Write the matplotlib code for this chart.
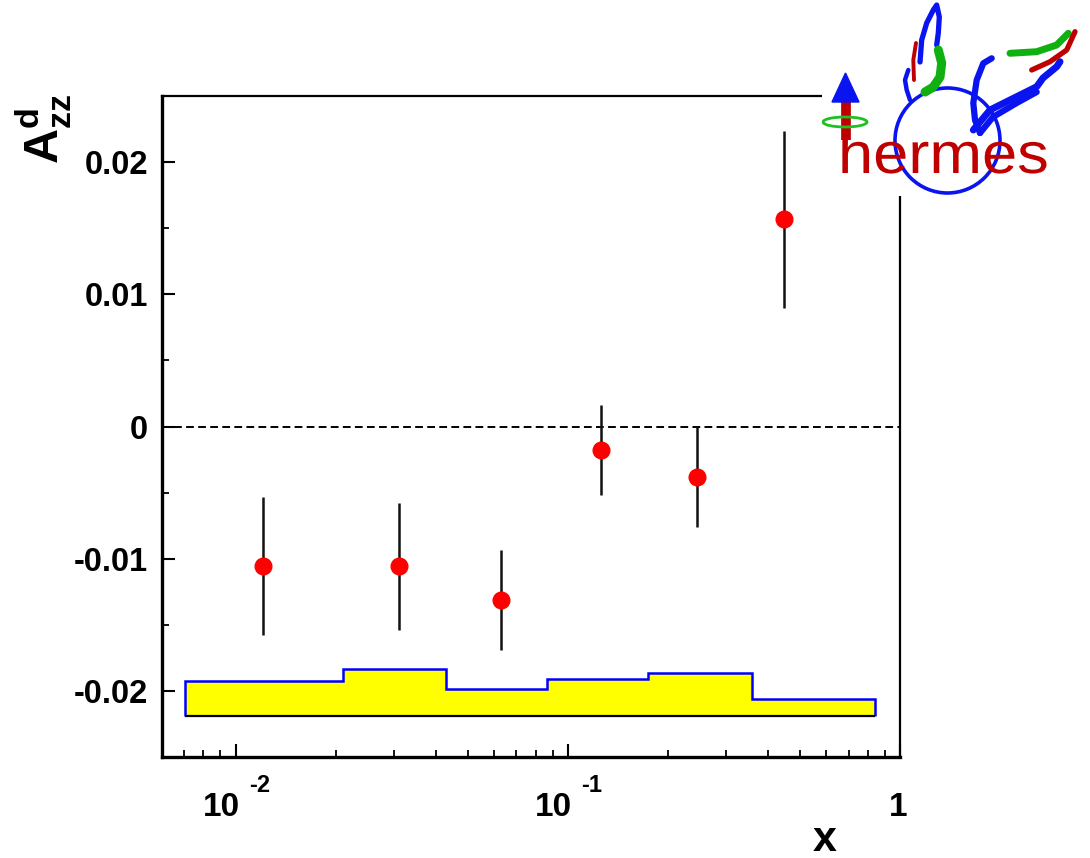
import matplotlib
matplotlib.use('Agg')
import matplotlib.pyplot as plt
from matplotlib.ticker import FixedLocator, LogLocator, NullFormatter, MultipleLocator, FormatStrFormatter
from matplotlib.transforms import blended_transform_factory, offset_copy, Affine2D
from matplotlib.patches import Circle, Ellipse, Polygon, PathPatch
from matplotlib.textpath import TextPath
from matplotlib.font_manager import FontProperties

plt.rcParams['font.family'] = ['Liberation Sans', 'DejaVu Sans']
plt.rcParams['mathtext.fontset'] = 'custom'
plt.rcParams['mathtext.rm'] = 'Liberation Sans'
plt.rcParams['mathtext.bf'] = 'Liberation Sans:bold'

# measured points
x_vals = [0.0121, 0.0311, 0.0627, 0.1257, 0.2443, 0.4481]
azz = [-0.01055, -0.01058, -0.01314, -0.00178, -0.00383, 0.01569]
azz_err = [0.0052, 0.0048, 0.0038, 0.0034, 0.0038, 0.0067]

# systematic error band
bin_edges = [0.00703, 0.02106, 0.0431, 0.0865, 0.1748, 0.3574, 0.8435]
sys_top = [-0.01927, -0.01835, -0.01983, -0.01912, -0.01867, -0.02058]
sys_base = -0.02188

fig = plt.figure(figsize=(10.9, 8.58), dpi=100)
ax = fig.add_axes([162/1090, 1 - 757/858, (900-162)/1090, (757-96)/858])

ax.set_xscale('log')
ax.set_xlim(0.006, 1.0)
ax.set_ylim(-0.025, 0.025)

# band
ax.stairs(sys_top, bin_edges, baseline=sys_base, fill=True, color='#ffff00', zorder=2)
ax.stairs(sys_top, bin_edges, baseline=sys_base, fill=False, color='#0000ff', lw=1.8, zorder=3)
ax.hlines(sys_base, bin_edges[0], bin_edges[-1], color='black', lw=1.6, zorder=4)

# zero line
ax.axhline(0, color='black', lw=1.4, linestyle=(0, (4, 2.2)), zorder=1)

ax.errorbar(x_vals, azz, yerr=azz_err, fmt='o', color='#ff0000', ecolor='#111111',
            elinewidth=1.8, capsize=0, markersize=12, zorder=5)

# axes style (ROOT-like)
for s in ['left', 'bottom']:
    ax.spines[s].set_linewidth(2.4)
for s in ['top', 'right']:
    ax.spines[s].set_linewidth(1.6)

ax.yaxis.set_major_locator(MultipleLocator(0.01))
ax.yaxis.set_minor_locator(MultipleLocator(0.005))
ax.yaxis.set_major_formatter(FormatStrFormatter('%g'))
ax.xaxis.set_major_locator(FixedLocator([0.01, 0.1, 1.0]))
ax.xaxis.set_minor_locator(LogLocator(base=10, subs=range(2, 10)))
ax.xaxis.set_major_formatter(NullFormatter())
ax.xaxis.set_minor_formatter(NullFormatter())
ax.tick_params(which='both', direction='in', top=False, right=False)
ax.tick_params(which='major', length=9.5, width=1.5)
ax.tick_params(which='minor', length=5, width=1.3)
ax.tick_params(axis='y', which='major', labelsize=23.5, pad=10)
for lab in ax.get_yticklabels():
    lab.set_fontweight('bold')

# x tick labels drawn ROOT style
tb = blended_transform_factory(ax.transData, ax.transAxes)
for dec, sup in [(0.01, '-2'), (0.1, '-1')]:
    ax.text(dec, -0.0893, '10', transform=offset_copy(tb, fig=fig, x=-14, y=0, units='dots'),
            ha='center', va='baseline', fontsize=24, fontweight='bold')
    ax.text(dec, -0.0533, sup, transform=offset_copy(tb, fig=fig, x=13, y=0, units='dots'),
            ha='left', va='baseline', fontsize=17, fontweight='bold')
ax.text(1.0, -0.0893, '1', transform=offset_copy(tb, fig=fig, x=-2, y=0, units='dots'),
        ha='center', va='baseline', fontsize=24, fontweight='bold')

fig.text(825/1090, 1 - 851/858, 'x', ha='center', va='baseline', fontsize=31, fontweight='bold')
fig.text(44/1090, 1 - 94/858, r'$\mathbf{A}_{\mathbf{zz}}^{\mathbf{d}}$', rotation=90,
         ha='center', va='top', fontsize=35)

# hermes logo
lg = fig.add_axes([822/1090, 1 - 196/858, (1090-822)/1090, 196/858], zorder=10)
lg.set_xlim(822, 1090)
lg.set_ylim(196, 0)
lg.set_xticks([])
lg.set_yticks([])
for s in lg.spines.values():
    s.set_visible(False)
lg.patch.set_facecolor('white')

blue = '#0a14f0'
red = '#c00000'
green = '#10b010'
lg.add_patch(Circle((947.5, 140.5), 52.5, fill=False, ec=blue, lw=2.6))
tp = TextPath((0, 0), 'hermes', size=58, prop=FontProperties(family='Liberation Sans'))
tp = Affine2D().scale(1.09, -1.0).translate(838, 173).transform_path(tp)
lg.add_patch(PathPatch(tp, color=red, lw=0, zorder=3))
lg.plot([845.5, 845.5], [100, 140], color=red, lw=7, solid_capstyle='butt', zorder=3)
lg.add_patch(Polygon([(832, 102), (859, 102), (845.5, 73)], closed=True, color=blue, zorder=4))
lg.add_patch(Ellipse((845, 122), 44, 10, fill=False, ec='#20c020', lw=2, zorder=5))

wing_strokes = [
    # left wing
    ([920, 921.7, 926.7, 933.3, 936.7, 939.3, 938.3, 936.7], [62, 40, 23, 10, 5, 17, 33, 45], blue, 3.8),
    ([938.3, 941.7, 940, 933.3, 925], [50, 63, 77, 87, 92], green, 6.5),
    ([916, 913.3, 914], [43, 60, 80], red, 2.8),
    ([908.3, 905, 906.7, 910], [70, 80, 90, 100], blue, 3.2),
    # right wing
    ([991.7, 983.3, 976.7, 973.3, 975, 980], [58.3, 63.3, 80, 103, 120, 133], blue, 4.5),
    ([973.3, 990, 1010, 1026.7, 1036.7, 1043, 1056.7, 1060], [130, 110, 100, 91.7, 86.7, 78, 66.7, 61.7], blue, 5),
    ([980, 993, 1016.7, 1036.7], [133, 117, 103, 92], blue, 4.5),
    ([1010, 1036.7, 1056.7, 1068.3], [53.3, 51.7, 45, 33.3], green, 5),
    ([1031.7, 1050, 1066.7, 1075], [70, 61.7, 50, 31.7], red, 3.8),
]
for xs, ys, c, w in wing_strokes:
    lg.plot(xs, ys, color=c, lw=w, solid_capstyle='round', solid_joinstyle='round', zorder=2)

fig.savefig('out.png', dpi=100)
